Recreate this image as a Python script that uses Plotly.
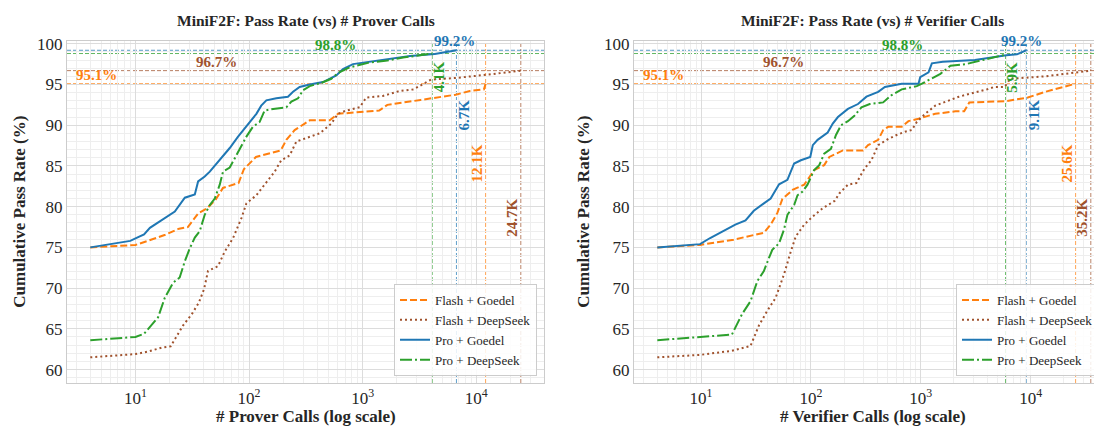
import numpy as np
import plotly.graph_objects as go

# ---------------- data ----------------
series_names = ["Flash + Goedel", "Flash + DeepSeek", "Pro + Goedel", "Pro + DeepSeek"]
series_colors = ["#ff7f0e", "#a0522d", "#1f77b4", "#2ca02c"]
series_dash = ["7px,3px", "2px,3px", "solid", "12px,3px,2px,3px"]
final_rates = [95.1, 96.7, 99.2, 98.8]

# Panel 1: prover calls
prover_fg_x = [4, 10, 12.8, 18.3, 24.2, 28.9, 35.8, 42.7, 51, 58.9, 80.9, 90, 115, 190, 213, 252, 309, 342, 513, 607, 1400, 1650, 3240, 6600, 8800, 11700, 12100]
prover_fg_y = [75.0, 75.3, 75.8, 76.55, 77.3, 77.5, 79.2, 79.8, 80.9, 82.3, 82.9, 84.6, 86.1, 86.9, 88.2, 89.4, 90.2, 90.6, 90.6, 91.4, 91.8, 92.5, 93.1, 93.75, 94.2, 94.4, 95.1]
prover_fd_x = [4, 10, 12.8, 17.1, 20.4, 22.7, 26.2, 31.3, 36.1, 40.2, 43.5, 53.3, 61.1, 72.3, 85.7, 94.8, 116, 137, 168, 192, 228, 261, 319, 419, 530, 607, 718, 942, 1077, 1510, 2120, 2810, 4000, 6600, 13500, 24700]
prover_fd_y = [61.5, 61.9, 62.2, 62.7, 62.85, 64.0, 65.4, 66.8, 68.2, 69.9, 72.1, 72.7, 74.5, 76.15, 78.6, 80.4, 81.4, 82.7, 84.3, 85.7, 86.3, 88.0, 88.4, 89.0, 90.2, 91.4, 91.8, 92.2, 93.4, 93.6, 94.2, 94.4, 95.6, 95.8, 96.25, 96.7]
prover_pg_x = [4, 9, 10, 11.9, 13.4, 16.4, 22.2, 27.2, 33.3, 35.6, 40.7, 45.1, 55.2, 67.6, 80, 98, 116, 128, 142, 174, 220, 244, 279, 342, 448, 587, 671, 822, 1590, 2620, 4320, 6700]
prover_pg_y = [75.0, 75.8, 76.1, 76.6, 77.4, 78.2, 79.4, 81.1, 81.5, 83.1, 83.7, 84.3, 85.7, 87.2, 88.6, 90.2, 91.4, 92.4, 93.05, 93.3, 93.5, 94.1, 94.7, 95.0, 95.3, 96.1, 96.9, 97.5, 98.1, 98.5, 98.75, 99.2]
prover_pd_x = [4, 10, 11.9, 13.4, 15.8, 18.1, 21.4, 24.5, 27.2, 30.1, 33.3, 36.8, 40.7, 45.1, 49.9, 55.2, 59, 67.6, 74.8, 82.8, 94.8, 108, 124, 137, 163, 213, 236, 270, 299, 342, 433, 530, 607, 769, 1150, 1590, 2270, 4100]
prover_pd_y = [63.6, 64.0, 64.4, 65.2, 66.4, 68.8, 70.65, 71.3, 73.3, 74.9, 76.2, 77.0, 79.0, 80.2, 81.0, 82.7, 84.3, 84.8, 85.9, 87.1, 88.6, 89.8, 90.4, 91.8, 92.0, 92.2, 92.9, 93.3, 94.3, 94.8, 95.2, 95.7, 96.4, 97.1, 97.7, 97.9, 98.3, 98.8]
prover_thresholds = [12100, 24700, 6700, 4100]
prover_threshold_labels = ["12.1K", "24.7K", "6.7K", "4.1K"]

# Panel 2: verifier calls
verifier_fg_x = [4, 9.8, 19.8, 37.3, 43, 49.4, 55, 68, 86.9, 107, 132, 147, 195, 298, 331, 409, 454, 505, 670, 771, 953, 1352, 2065, 2480, 2760, 6000, 9400, 13600, 25600]
verifier_fg_y = [75.0, 75.3, 75.95, 76.8, 77.8, 79.2, 80.95, 82.05, 82.7, 84.5, 85.1, 86.1, 86.9, 86.9, 87.55, 88.2, 89.4, 89.8, 89.8, 90.5, 90.8, 91.4, 91.7, 91.7, 92.8, 92.95, 93.4, 94.1, 95.1]
verifier_fd_x = [4, 9.8, 19.1, 28.2, 33.6, 40, 47.7, 56.9, 65.6, 72.8, 86.9, 104, 128, 164, 182, 217, 259, 308, 355, 409, 488, 602, 718, 826, 919, 1096, 1352, 1794, 2218, 4000, 4650, 5800, 6500, 13600, 35200]
verifier_fd_y = [61.5, 61.8, 62.3, 62.9, 65.4, 67.2, 68.8, 71.7, 74.5, 76.35, 77.8, 78.8, 79.8, 80.7, 81.65, 82.7, 82.9, 84.7, 85.7, 87.55, 88.2, 88.8, 89.2, 89.4, 90.4, 91.4, 92.4, 93.05, 93.5, 94.4, 94.7, 94.7, 95.7, 96.0, 96.7]
verifier_pg_x = [4, 9.8, 12.1, 16.6, 20.5, 25.4, 30.2, 37.3, 43, 51.3, 61.1, 70.3, 81, 98.6, 104, 115, 142, 158, 176, 217, 268, 320, 409, 471, 670, 953, 987, 1175, 1260, 1585, 3100, 6000, 7500, 9100]
verifier_pg_y = [75.0, 75.4, 76.15, 77.2, 77.8, 78.3, 79.5, 80.4, 81.0, 82.75, 83.3, 85.3, 85.7, 86.1, 87.55, 88.2, 89.1, 90.2, 91.0, 92.0, 92.6, 93.5, 94.1, 94.7, 95.1, 95.1, 95.9, 96.5, 97.6, 97.8, 98.0, 98.6, 98.7, 99.2]
verifier_pd_x = [4, 9.8, 19.1, 23.6, 28.2, 32.5, 37.3, 41.5, 44.5, 51.3, 56.9, 61.1, 70.3, 75.5, 84, 93, 107, 119, 132, 152, 169, 188, 217, 250, 288, 343, 454, 542, 670, 919, 1023, 1506, 1860, 2570, 5600, 5900]
verifier_pd_y = [63.6, 64.0, 64.3, 66.8, 68.4, 70.85, 72.1, 73.7, 74.7, 75.5, 77.2, 79.0, 80.2, 81.4, 81.85, 82.7, 84.5, 85.1, 86.5, 87.1, 88.8, 90.0, 90.5, 91.2, 92.2, 92.6, 92.8, 93.7, 94.4, 94.8, 95.1, 96.3, 97.3, 97.5, 98.6, 98.8]
verifier_thresholds = [25600, 35200, 9100, 5900]
verifier_threshold_labels = ["25.6K", "35.2K", "9.1K", "5.9K"]

panel_titles = ["MiniF2F: Pass Rate (vs) # Prover Calls", "MiniF2F: Pass Rate (vs) # Verifier Calls"]
x_titles = ["# Prover Calls (log scale)", "# Verifier Calls (log scale)"]
y_title = "Cumulative Pass Rate (%)"
x_tick_vals = [10, 100, 1000, 10000]
x_tick_text = ["10<sup>1</sup>", "10<sup>2</sup>", "10<sup>3</sup>", "10<sup>4</sup>"]
y_tick_vals = [60, 65, 70, 75, 80, 85, 90, 95, 100]

panels = [
    dict(xs=[prover_fg_x, prover_fd_x, prover_pg_x, prover_pd_x],
         ys=[prover_fg_y, prover_fd_y, prover_pg_y, prover_pd_y],
         thr=prover_thresholds, thr_lab=prover_threshold_labels),
    dict(xs=[verifier_fg_x, verifier_fd_x, verifier_pg_x, verifier_pd_x],
         ys=[verifier_fg_y, verifier_fd_y, verifier_pg_y, verifier_pd_y],
         thr=verifier_thresholds, thr_lab=verifier_threshold_labels),
]

# ---------------- layout geometry ----------------
# The page body has an 8px margin, so the figure is drawn 8px smaller and
# every screen-pixel position below is converted with fx / fy.
SCREEN_W, SCREEN_H = 1102, 428
OFF = 8
FW, FH = SCREEN_W - OFF, SCREEN_H - OFF


def fx(px):
    return (px - OFF) / FW


def fy(py):
    return (FH - (py - OFF)) / FH


FONT = "Liberation Serif, Times New Roman, serif"
TXT = "#262626"
ax_px = [(67, 544), (634, 1111)]      # full axes extents (right one clipped at the edge)
ax_top, ax_bot = 40.5, 383
x_ranges = [[0.397, 4.597], [0.39, 0.39 + (SCREEN_W - 634) / 109.9]]
y_range = [58.35, 100.4]
pct_label_frac = [0.0625, 0.3125, 0.8125, 0.5625]   # axes fraction for each rate label
thr_label_y = [85.25, 78.6, 91.26, 95.9]
thr_label_shift = [-9, -9, 8, 7]
ref_dash = "4px,2px"

fig = go.Figure()

for p, panel in enumerate(panels):
    xa = "x" if p == 0 else "x2"
    ya = "y" if p == 0 else "y2"
    for i in range(4):
        fig.add_trace(go.Scatter(
            x=panel["xs"][i], y=panel["ys"][i], mode="lines", name=series_names[i],
            line=dict(color=series_colors[i], dash=series_dash[i], width=2),
            xaxis=xa, yaxis=ya, legend="legend" if p == 0 else "legend2",
            hoverinfo="skip"))

    for i in range(4):
        # horizontal reference line at final rate
        fig.add_shape(type="line", xref=xa + " domain", yref=ya, x0=0, x1=1,
                      y0=final_rates[i], y1=final_rates[i], layer="below",
                      line=dict(color=series_colors[i], width=1, dash=ref_dash), opacity=0.75)
        # vertical line at the calls needed (shapes take data values on log axes)
        thr = panel["thr"][i]
        fig.add_shape(type="line", xref=xa, yref=ya + " domain", x0=thr, x1=thr,
                      y0=0, y1=1, layer="below",
                      line=dict(color=series_colors[i], width=1, dash=ref_dash), opacity=0.7)
        # rotated call-count label (annotations take log10 values on log axes)
        fig.add_annotation(x=np.log10(thr), y=thr_label_y[i], xref=xa, yref=ya,
                           text="<b>%s</b>" % panel["thr_lab"][i], textangle=-90,
                           showarrow=False, xshift=thr_label_shift[i],
                           xanchor="center", yanchor="middle",
                           font=dict(family=FONT, size=15, color=series_colors[i]))
        # rate label
        l, r = ax_px[p]
        px = l + pct_label_frac[i] * (r - l)
        fig.add_annotation(x=fx(px), y=final_rates[i], xref="paper", yref=ya,
                           text="<b>%.1f%%</b>" % final_rates[i], showarrow=False,
                           xanchor="center", yanchor="bottom", yshift=-1,
                           font=dict(family=FONT, size=15, color=series_colors[i]))

    l, r = ax_px[p]
    cx = (l + r) / 2
    fig.add_annotation(x=fx(cx), y=fy(21), xref="paper", yref="paper",
                       xanchor="center", yanchor="middle",
                       text="<b>%s</b>" % panel_titles[p], showarrow=False,
                       font=dict(family=FONT, size=15.5, color=TXT))
    fig.add_annotation(x=fx(cx), y=fy(416), xref="paper", yref="paper",
                       xanchor="center", yanchor="middle",
                       text="<b>%s</b>" % x_titles[p], showarrow=False,
                       font=dict(family=FONT, size=17, color=TXT))
    fig.add_annotation(x=fx(20 if p == 0 else 584), y=fy((ax_top + ax_bot) / 2),
                       xref="paper", yref="paper", textangle=-90,
                       xanchor="center", yanchor="middle",
                       text="<b>%s</b>" % y_title, showarrow=False,
                       font=dict(family=FONT, size=17, color=TXT))

minor_x = [k * 10 ** n for n in range(0, 5) for k in range(2, 10)]
common_x = dict(type="log", showgrid=True, gridcolor="#dcdcdc", gridwidth=1,
                tickmode="array", tickvals=x_tick_vals, ticktext=x_tick_text,
                ticks="", showline=True, linecolor="#cccccc", linewidth=1, mirror=True,
                zeroline=False, automargin=False,
                tickfont=dict(family=FONT, size=17, color=TXT),
                minor=dict(tickmode="array", tickvals=minor_x, showgrid=True,
                           gridcolor="#eeeeee", gridwidth=1, ticks=""))
common_y = dict(range=y_range, tickmode="array", tickvals=y_tick_vals, showgrid=True,
                gridcolor="#dcdcdc", gridwidth=1, ticks="", showline=True,
                linecolor="#cccccc", linewidth=1, mirror=True, zeroline=False,
                automargin=False,
                tickfont=dict(family=FONT, size=17, color=TXT),
                minor=dict(dtick=1, showgrid=True, gridcolor="#eeeeee", gridwidth=1, ticks=""))

ydom = [fy(ax_bot), fy(ax_top)]
legend_common = dict(bgcolor="rgba(255,255,255,0.85)", bordercolor="#cccccc", borderwidth=1,
                     font=dict(family=FONT, size=13, color=TXT), xanchor="right",
                     yanchor="bottom", itemwidth=30, tracegroupgap=0)

fig.update_layout(
    width=FW, height=FH, margin=dict(l=0, r=0, t=0, b=0, autoexpand=False),
    paper_bgcolor="white", plot_bgcolor="white",
    xaxis=dict(domain=[fx(67), fx(544)], range=x_ranges[0], anchor="y", **common_x),
    yaxis=dict(domain=ydom, anchor="x", **common_y),
    xaxis2=dict(domain=[fx(634), 1.0], range=x_ranges[1], anchor="y2", **common_x),
    yaxis2=dict(domain=ydom, anchor="x2", **common_y),
    legend=dict(x=fx(537), y=fy(376), **legend_common),
    legend2=dict(x=fx(1099), y=fy(376), **legend_common),
    showlegend=True,
)

fig.write_html("out.html")
